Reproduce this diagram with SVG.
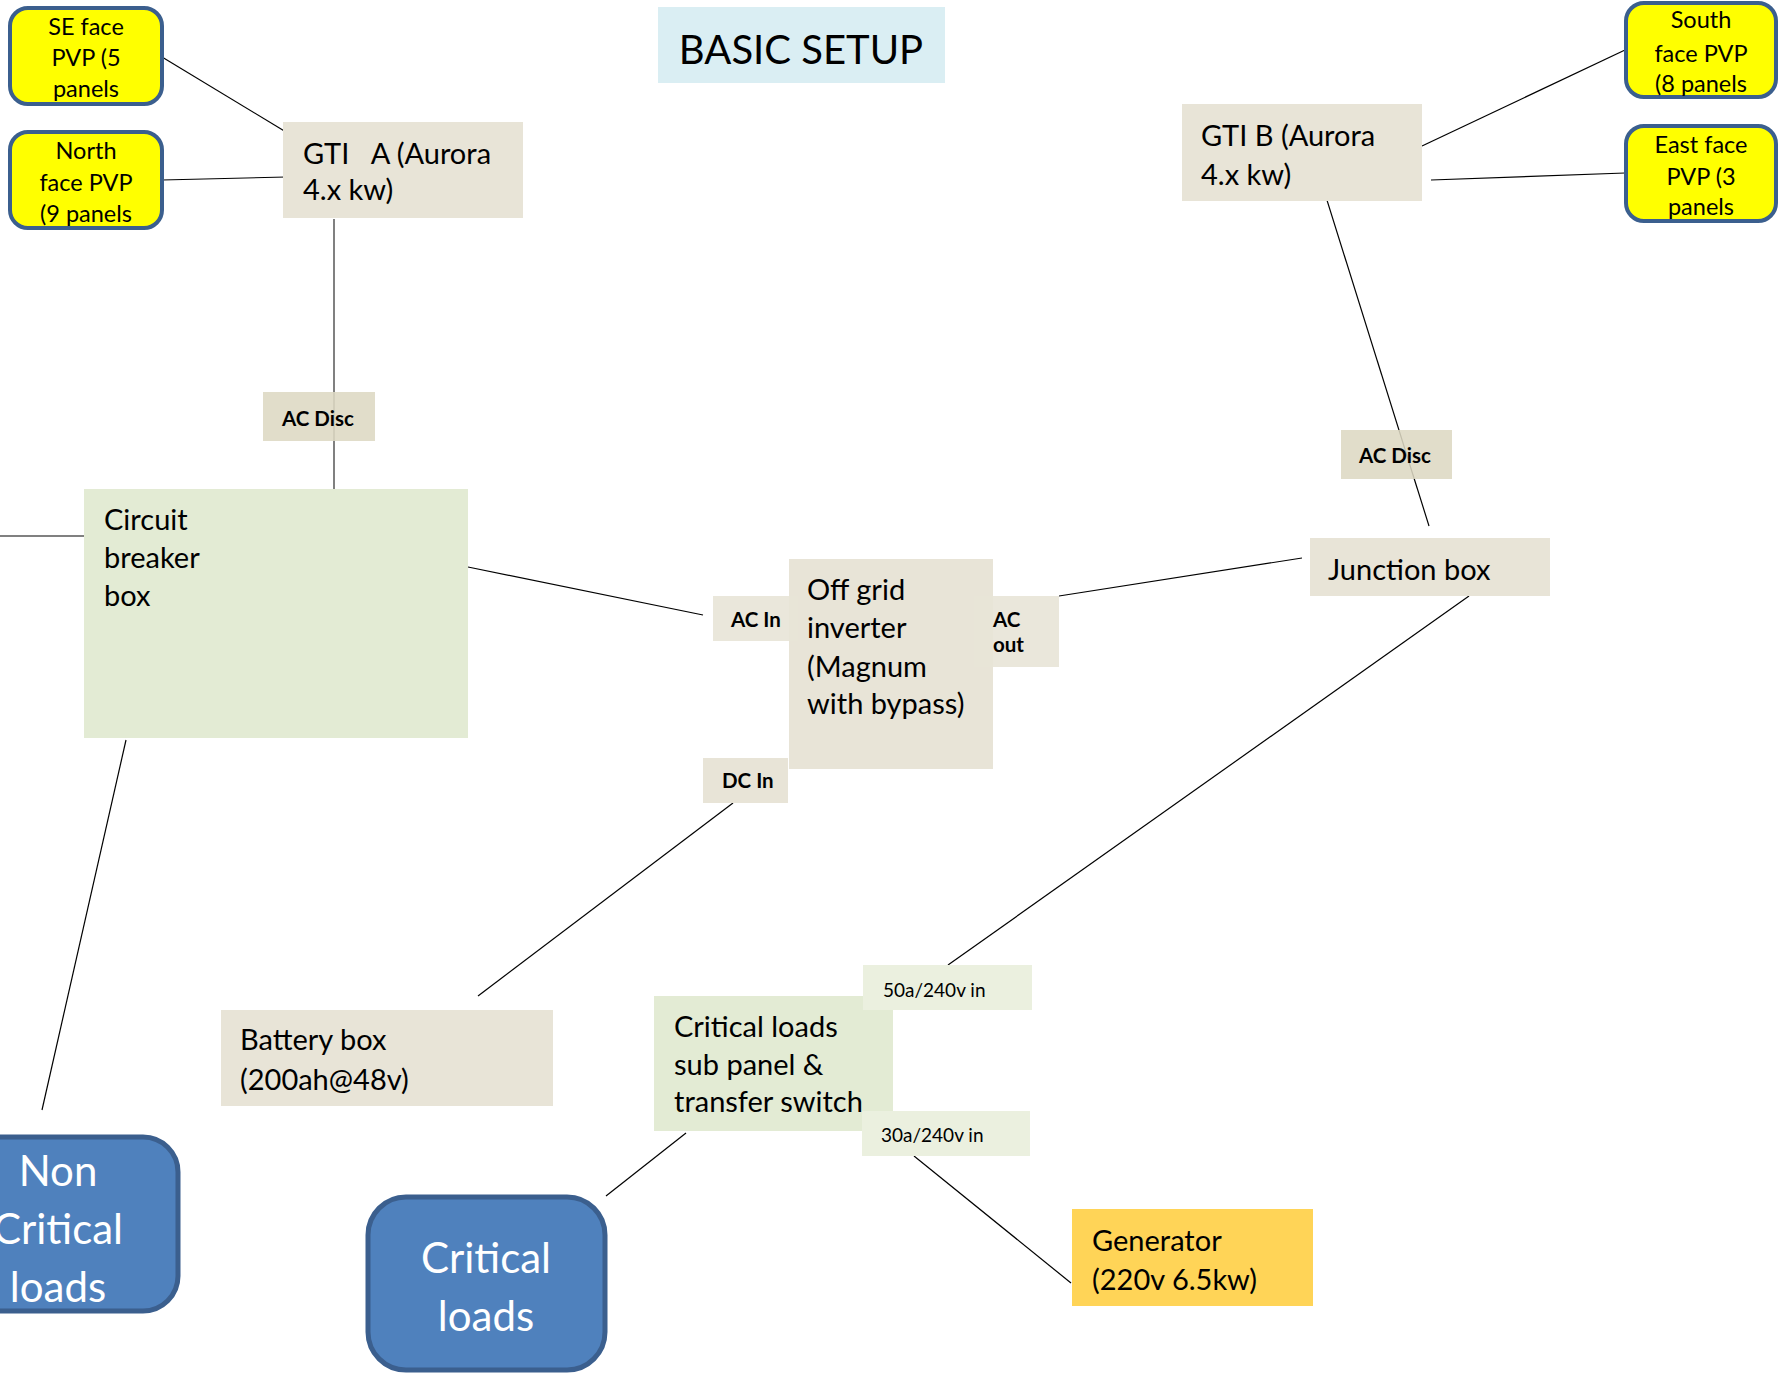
<svg xmlns="http://www.w3.org/2000/svg" width="1787" height="1376" viewBox="0 0 1787 1376">
<style>
  text { font-family: Lato, "Open Sans", "Liberation Sans", sans-serif; fill: #000; }
  .t29 { font-size: 29px; }
  .pv { font-size: 23.5px; text-anchor: middle; }
  .lb { font-size: 20.5px; font-weight: bold; }
  .sm { font-size: 19px; }
  .big { font-size: 42px; fill: #fff; text-anchor: middle; }
  .tan { fill: #e8e4d7; }
  .tanl { fill: #ddd8c3; fill-opacity: 0.88; }
  .grn { fill: #e3ebd4; }
  .grnl { fill: #ebf0df; }
  .pvp { fill: #ffff00; stroke: #3b5f8e; stroke-width: 4; }
  .blue { fill: #4f81bd; stroke: #3b5f8e; stroke-width: 5; }
  .c { stroke: #000; stroke-width: 1.2; fill: none; }
  .cg { stroke: #808080; stroke-width: 2; fill: none; }
</style>

<g id="connectors">
  <line class="c" x1="162" y1="57" x2="286" y2="132"/>
  <line class="c" x1="162" y1="180" x2="286" y2="177"/>
  <line class="cg" x1="334" y1="219" x2="334" y2="489"/>
  <line class="c" x1="1422" y1="146" x2="1625" y2="50"/>
  <line class="c" x1="1431" y1="180" x2="1625" y2="173"/>
  <line class="c" x1="1326" y1="197" x2="1429" y2="526"/>
  <line class="cg" x1="0" y1="536" x2="86" y2="536"/>
  <line class="c" x1="468" y1="567" x2="703" y2="615"/>
  <line class="c" x1="1059" y1="596" x2="1302" y2="558"/>
  <line class="c" x1="733" y1="803" x2="478" y2="996"/>
  <line class="c" x1="1469" y1="596" x2="948" y2="965"/>
  <line class="c" x1="126" y1="740" x2="42" y2="1110"/>
  <line class="c" x1="686" y1="1133" x2="606" y2="1196"/>
  <line class="c" x1="914" y1="1156" x2="1071" y2="1283"/>
</g>

<g id="title">
  <rect x="658" y="7" width="287" height="76" fill="#daeef3"/>
  <text x="801" y="64" font-size="40" text-anchor="middle">BASIC SETUP</text>
</g>

<g id="pvp-se">
  <rect class="pvp" x="10" y="8" width="152" height="96" rx="18"/>
  <text class="pv" x="86" y="35">SE face</text>
  <text class="pv" x="86" y="66">PVP (5</text>
  <text class="pv" x="86" y="97">panels</text>
</g>

<g id="pvp-north">
  <rect class="pvp" x="10" y="132" width="152" height="96" rx="18"/>
  <text class="pv" x="86" y="159">North</text>
  <text class="pv" x="86" y="191">face PVP</text>
  <text class="pv" x="86" y="222">(9 panels</text>
</g>

<g id="pvp-south">
  <rect class="pvp" x="1626" y="3" width="150" height="94" rx="18"/>
  <text class="pv" x="1701" y="28">South</text>
  <text class="pv" x="1701" y="62">face PVP</text>
  <text class="pv" x="1701" y="92">(8 panels</text>
</g>

<g id="pvp-east">
  <rect class="pvp" x="1626" y="126" width="150" height="95" rx="18"/>
  <text class="pv" x="1701" y="153">East face</text>
  <text class="pv" x="1701" y="185">PVP (3</text>
  <text class="pv" x="1701" y="215">panels</text>
</g>

<g id="gti-a">
  <rect class="tan" x="283" y="122" width="240" height="96"/>
  <text class="t29" x="303" y="164" xml:space="preserve">GTI   A (Aurora</text>
  <text class="t29" x="303" y="200">4.x kw)</text>
</g>

<g id="gti-b">
  <rect class="tan" x="1182" y="104" width="240" height="97"/>
  <text class="t29" x="1201" y="146">GTI B (Aurora</text>
  <text class="t29" x="1201" y="185">4.x kw)</text>
</g>

<g id="ac-disc-a">
  <rect class="tanl" x="263" y="392" width="112" height="49"/>
  <text class="lb" x="282" y="426">AC Disc</text>
</g>

<g id="ac-disc-b">
  <rect class="tanl" x="1341" y="430" width="111" height="49"/>
  <text class="lb" x="1359" y="463">AC Disc</text>
</g>

<g id="circuit-breaker">
  <rect class="grn" x="84" y="489" width="384" height="249"/>
  <text class="t29" x="104" y="530">Circuit</text>
  <text class="t29" x="104" y="568">breaker</text>
  <text class="t29" x="104" y="606">box</text>
</g>

<g id="inverter">
  <rect class="tan" x="789" y="559" width="204" height="210"/>
  <text class="t29" x="807" y="600">Off grid</text>
  <text class="t29" x="807" y="638">inverter</text>
  <text class="t29" x="807" y="677">(Magnum</text>
  <text class="t29" x="807" y="714">with bypass)</text>
</g>

<g id="ac-in">
  <rect class="tan" x="713" y="596" width="85" height="45" fill-opacity="0.9"/>
  <text class="lb" x="731" y="627" font-size="18">AC In</text>
</g>

<g id="ac-out">
  <rect class="tan" x="974" y="596" width="85" height="71" fill-opacity="0.9"/>
  <text class="lb" x="993" y="627" font-size="18">AC</text>
  <text class="lb" x="993" y="652" font-size="18">out</text>
</g>

<g id="dc-in">
  <rect class="tan" x="703" y="758" width="85" height="45"/>
  <text class="lb" x="722" y="788" font-size="18">DC In</text>
</g>

<g id="junction">
  <rect class="tan" x="1310" y="538" width="240" height="58"/>
  <text class="t29" x="1328" y="580">Junction box</text>
</g>

<g id="battery">
  <rect class="tan" x="221" y="1010" width="332" height="96"/>
  <text class="t29" x="240" y="1050">Battery box</text>
  <text class="t29" x="240" y="1090">(200ah@48v)</text>
</g>

<g id="subpanel">
  <rect class="grn" x="654" y="996" width="239" height="135"/>
  <text class="t29" x="674" y="1037">Critical loads</text>
  <text class="t29" x="674" y="1075">sub panel &amp;</text>
  <text class="t29" x="674" y="1112">transfer switch</text>
</g>

<g id="in-50a">
  <rect class="grnl" x="863" y="965" width="169" height="45"/>
  <text class="sm" x="883" y="997">50a/240v in</text>
</g>

<g id="in-30a">
  <rect class="grnl" x="862" y="1111" width="168" height="45"/>
  <text class="sm" x="881" y="1142">30a/240v in</text>
</g>

<g id="generator">
  <rect x="1072" y="1209" width="241" height="97" fill="#ffd457"/>
  <text class="t29" x="1092" y="1251">Generator</text>
  <text class="t29" x="1092" y="1290">(220v 6.5kw)</text>
</g>

<g id="non-critical">
  <rect class="blue" x="-60" y="1137" width="238" height="174" rx="35"/>
  <text class="big" x="58" y="1186">Non</text>
  <text class="big" x="58" y="1244">Critical</text>
  <text class="big" x="58" y="1302">loads</text>
</g>

<g id="critical">
  <rect class="blue" x="368" y="1197" width="237" height="173" rx="38"/>
  <text class="big" x="486" y="1273">Critical</text>
  <text class="big" x="486" y="1331">loads</text>
</g>
</svg>
